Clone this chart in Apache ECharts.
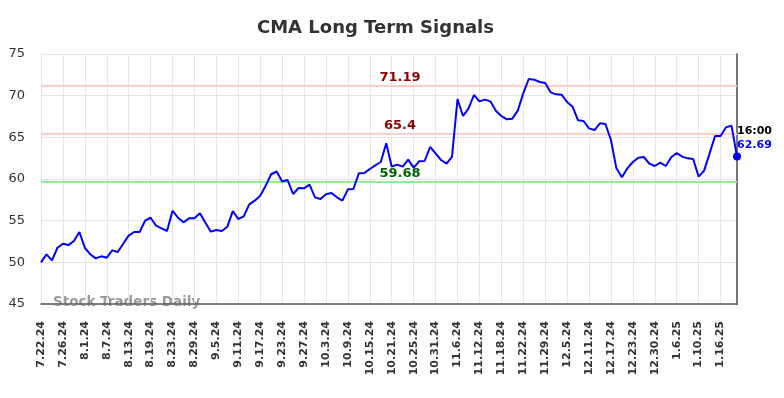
<!DOCTYPE html>
<html>
<head>
<meta charset="utf-8">
<script src="https://cdn.jsdelivr.net/npm/echarts@6/dist/echarts.min.js"></script>
<style>html,body{margin:0;padding:0;background:#fff}#c{width:784px;height:398px}</style>
</head>
<body>
<div id="c"></div>
<script>
var dates = [
'7.22.24','7.23.24','7.24.24','7.25.24','7.26.24','7.29.24','7.30.24','7.31.24',
'8.1.24','8.2.24','8.5.24','8.6.24','8.7.24','8.8.24','8.9.24','8.12.24','8.13.24','8.14.24','8.15.24','8.16.24','8.19.24','8.20.24','8.21.24','8.22.24','8.23.24','8.26.24','8.27.24','8.28.24','8.29.24','8.30.24',
'9.3.24','9.4.24','9.5.24','9.6.24','9.9.24','9.10.24','9.11.24','9.12.24','9.13.24','9.16.24','9.17.24','9.18.24','9.19.24','9.20.24','9.23.24','9.24.24','9.25.24','9.26.24','9.27.24','9.30.24',
'10.1.24','10.2.24','10.3.24','10.4.24','10.7.24','10.8.24','10.9.24','10.10.24','10.11.24','10.14.24','10.15.24','10.16.24','10.17.24','10.18.24','10.21.24','10.22.24','10.23.24','10.24.24','10.25.24','10.28.24','10.29.24','10.30.24','10.31.24',
'11.1.24','11.4.24','11.5.24','11.6.24','11.7.24','11.8.24','11.11.24','11.12.24','11.13.24','11.14.24','11.15.24','11.18.24','11.19.24','11.20.24','11.21.24','11.22.24','11.25.24','11.26.24','11.27.24','11.29.24',
'12.2.24','12.3.24','12.4.24','12.5.24','12.6.24','12.9.24','12.10.24','12.11.24','12.12.24','12.13.24','12.16.24','12.17.24','12.18.24','12.19.24','12.20.24','12.23.24','12.24.24','12.26.24','12.27.24','12.30.24','12.31.24',
'1.2.25','1.3.25','1.6.25','1.7.25','1.8.25','1.9.25','1.10.25','1.13.25','1.14.25','1.15.25','1.16.25','1.17.25','1.21.25','1.22.25'
];
var prices = [
50.0,50.96,50.24,51.75,52.23,52.07,52.56,53.64,51.75,50.96,
50.48,50.72,50.56,51.44,51.24,52.23,53.2,53.64,53.64,55.0,
55.35,54.4,54.08,53.76,56.2,55.35,54.8,55.28,55.28,55.88,
54.75,53.68,53.88,53.76,54.28,56.15,55.2,55.52,56.96,57.4,
58.0,59.2,60.57,60.9,59.7,59.88,58.2,58.92,58.88,59.32,
57.8,57.6,58.16,58.32,57.8,57.4,58.76,58.8,60.68,60.72,
61.2,61.64,62.04,64.28,61.48,61.72,61.48,62.32,61.36,62.12,
62.16,63.84,63.08,62.28,61.84,62.68,69.6,67.56,68.44,70.08,
69.32,69.52,69.32,68.2,67.56,67.16,67.24,68.2,70.28,72.0,
71.92,71.64,71.52,70.4,70.16,70.12,69.24,68.68,67.04,66.96,
66.08,65.88,66.68,66.6,64.68,61.28,60.2,61.28,62.04,62.56,
62.64,61.84,61.56,61.96,61.56,62.6,63.12,62.68,62.48,62.4,
60.28,61.0,63.08,65.16,65.16,66.2,66.4,62.69
];
var resistanceLevels = [71.19, 65.4];
var supportLevels = [59.68];
var lastTimeLabel = '16:00';
var yTicks = [45, 50, 55, 60, 65, 70, 75];

var chart = echarts.init(document.getElementById('c'), null, {renderer: 'canvas'});
var font = 'DejaVu Sans';
var lastIdx = prices.length - 1;
var markLines = [];
resistanceLevels.forEach(function (v) {
  markLines.push({yAxis: v, lineStyle: {color: '#ffcccc', width: 2, type: 'solid'},
    label: {show: true, position: 'insideMiddleTop', formatter: String(v), color: '#8b0000',
      fontFamily: font, fontWeight: 'bold', fontSize: 13, offset: [11, 3]}});
});
supportLevels.forEach(function (v) {
  markLines.push({yAxis: v, lineStyle: {color: '#90ee90', width: 2, type: 'solid'},
    label: {show: true, position: 'insideMiddleTop', formatter: String(v), color: '#006400',
      fontFamily: font, fontWeight: 'bold', fontSize: 13, offset: [11, 3]}});
});

chart.setOption({
  animation: false,
  backgroundColor: '#ffffff',
  title: {
    text: 'CMA Long Term Signals', left: 252, top: 14,
    textStyle: {fontFamily: font, fontWeight: 'bold', fontSize: 18, color: '#333333'}
  },
  grid: {left: 41, right: 47, top: 54, bottom: 94, containLabel: false},
  graphic: [{
    type: 'text', left: 53, top: 295, z: 0,
    style: {text: 'Stock Traders Daily', fill: 'rgba(120,120,120,0.75)', font: 'bold 13.5px "DejaVu Sans"'}
  }],
  xAxis: {
    type: 'category', data: dates, boundaryGap: false,
    axisLine: {show: true, lineStyle: {color: '#555555', width: 1.5}},
    axisTick: {show: false},
    axisLabel: {interval: 3, rotate: 90, margin: 17, fontFamily: font, fontWeight: 'bold', fontSize: 11, color: '#333333'},
    splitLine: {show: true, interval: 3, lineStyle: {color: '#e6e6e6', width: 1}}
  },
  yAxis: [{
    type: 'value', min: yTicks[0], max: yTicks[yTicks.length - 1], interval: 5,
    axisLine: {show: false}, axisTick: {show: false},
    axisLabel: {fontFamily: font, fontSize: 13, color: '#333333', margin: 16},
    splitLine: {show: true, lineStyle: {color: '#e6e6e6', width: 1}}
  }, {
    type: 'value', position: 'right', min: yTicks[0], max: yTicks[yTicks.length - 1], interval: 5,
    axisLine: {show: true, lineStyle: {color: '#777777', width: 2}}, axisTick: {show: false},
    axisLabel: {show: false}, splitLine: {show: false}
  }],
  series: [{
    type: 'line', data: prices, showSymbol: false, symbol: 'none',
    lineStyle: {color: '#0000ff', width: 2}, z: 3,
    markLine: {silent: true, symbol: 'none', data: markLines, z: 1},
    markPoint: {
      silent: true,
      data: [{coord: [lastIdx, prices[lastIdx]], symbol: 'circle', symbolSize: 8,
        itemStyle: {color: '#0000ff'},
        label: {show: true, position: [4, -28], align: 'left', verticalAlign: 'top',
          formatter: '{t|' + lastTimeLabel + '}\n{v|' + prices[lastIdx] + '}',
          rich: {
            t: {fontFamily: font, fontWeight: 'bold', fontSize: 11, color: '#000000', lineHeight: 14},
            v: {fontFamily: font, fontWeight: 'bold', fontSize: 11, color: '#0000ff', lineHeight: 14}
          }}}]
    }
  }]
});
</script>
</body>
</html>
